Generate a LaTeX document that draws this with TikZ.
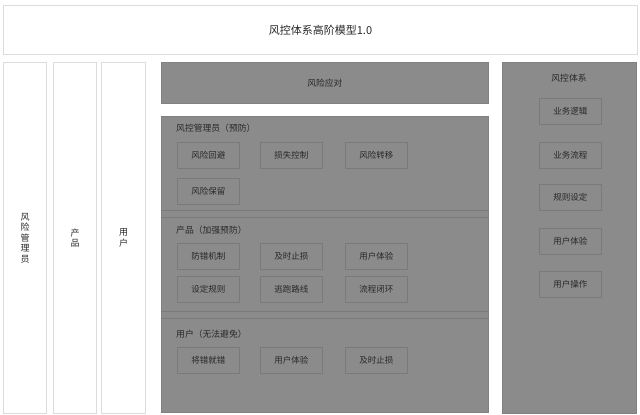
\documentclass[tikz,border=0pt]{standalone}
\usepackage{fontspec}
\setmainfont{Noto Sans CJK SC}
\usepackage{xcolor}
\definecolor{panelgray}{HTML}{8B8B8B}
\definecolor{edgegray}{HTML}{7A7A7A}
\definecolor{linegray}{HTML}{DCDCDC}
\definecolor{inkgray}{HTML}{282828}

\begin{document}
\begin{tikzpicture}[x=1pt,y=-1pt,
  whitebox/.style={draw=linegray, fill=white, line width=1pt, anchor=north west,
    inner sep=0pt, text=inkgray, align=center},
  graypanel/.style={draw=edgegray!60!panelgray, fill=panelgray, line width=0.8pt,
    anchor=north west, inner sep=0pt, text=inkgray},
  itembox/.style={draw=edgegray, fill=panelgray, line width=0.8pt, anchor=north west,
    minimum width=62pt, minimum height=26pt, inner sep=0pt, text=inkgray,
    font=\fontsize{8.5}{10}\selectfont},
  heading/.style={inner sep=0pt, text=inkgray, font=\fontsize{8.8}{10}\selectfont}]

      \useasboundingbox (0,0) rectangle (640,415);

      % title
      \node (title) [whitebox, minimum width=634pt, minimum height=49pt,
      font=\fontsize{11}{13}\selectfont] at (3,5) {风控体系高阶模型1.0};

      % columns
      \node (manager) [whitebox, minimum width=43pt, minimum height=351pt,
      font=\fontsize{9}{10.5}\selectfont] at (3,62) {风\\险\\管\\理\\员};
      \node (product) [whitebox, minimum width=43pt, minimum height=351pt,
      font=\fontsize{9}{10.5}\selectfont] at (53,62) {产\\品};
      \node (user) [whitebox, minimum width=44pt, minimum height=351pt,
      font=\fontsize{9}{10.5}\selectfont] at (101,62) {用\\户};

      % response
      \node (response) [graypanel, minimum width=327pt, minimum height=41pt,
      font=\fontsize{8.8}{10}\selectfont] at (161,62) {风险应对};

      % layers
      \node (layers) [graypanel, minimum width=327pt, minimum height=296pt] at (161,116) {};
      \draw [edgegray, line width=0.8pt] (161,210) -- (488,210);
      \draw [edgegray, line width=0.8pt] (161,217) -- (488,217);
      \draw [edgegray, line width=0.8pt] (161,311) -- (488,311);
      \draw [edgegray, line width=0.8pt] (161,318) -- (488,318);

      % layer 1
      \node (head1) [heading, anchor=west] at (176,128) {风控管理员（预防）};
      \node (avoid) [itembox] at (177,142) {风险回避};
      \node (control) [itembox] at (260,142) {损失控制};
      \node (transfer) [itembox] at (345,142) {风险转移};
      \node (retain) [itembox] at (177,178) {风险保留};

      % layer 2
      \node (head2) [heading, anchor=west] at (176,230) {产品（加强预防）};
      \node (proof) [itembox] at (177,243) {防错机制};
      \node (stop2) [itembox] at (260,243) {及时止损};
      \node (ux2) [itembox] at (345,243) {用户体验};
      \node (rules) [itembox] at (177,276) {设定规则};
      \node (escape) [itembox] at (260,276) {逃跑路线};
      \node (loop) [itembox] at (345,276) {流程闭环};

      % layer 3
      \node (head3) [heading, anchor=west] at (176,334) {用户（无法避免）};
      \node (accept) [itembox] at (177,347) {将错就错};
      \node (ux3) [itembox] at (260,347) {用户体验};
      \node (stop3) [itembox] at (345,347) {及时止损};

      % system
      \node (system) [graypanel, minimum width=134pt, minimum height=351pt] at (502,62) {};
      \node (head4) [heading] at (569,78) {风控体系};
      \node (logic) [itembox] at (539,98) {业务逻辑};
      \node (flow) [itembox] at (539,142) {业务流程};
      \node (setting) [itembox] at (539,184) {规则设定};
      \node (ux4) [itembox] at (539,228) {用户体验};
      \node (operate) [itembox] at (539,271) {用户操作};

\end{tikzpicture}
\end{document}
